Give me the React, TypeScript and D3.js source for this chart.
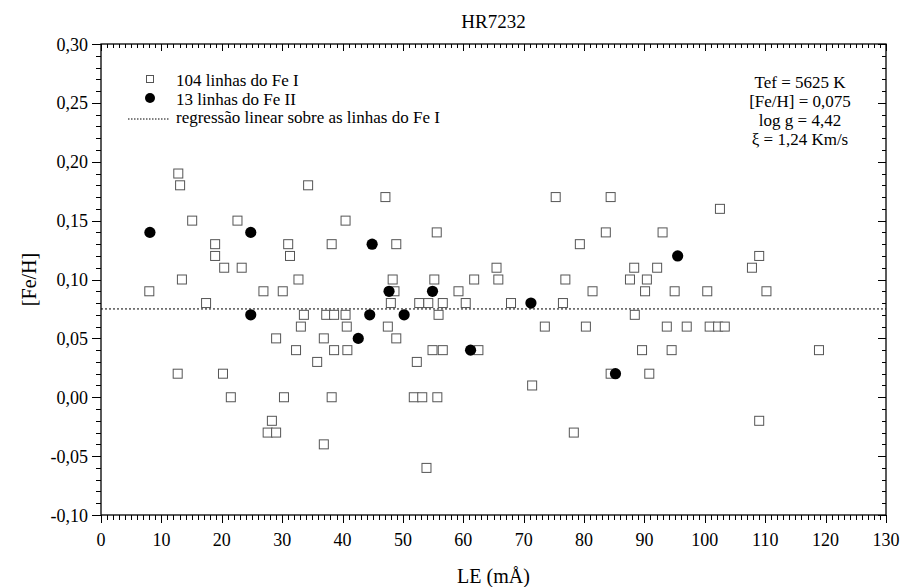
import React from "react";
import * as d3 from "d3";

const feI_LE: number[] = [
  12.8,
  13.1, 34.3,
  47.1, 75.3, 84.4,
  102.5,
  15.1, 22.6, 40.5,
  55.6, 83.6, 93.0,
  18.9, 31.0, 38.2, 48.9, 79.3,
  18.9, 31.3, 109.0,
  20.4, 23.3, 65.5, 88.3, 92.1, 107.8,
  13.4, 32.7, 48.3, 55.2, 61.8, 65.8, 76.9, 87.6, 90.4,
  8.0, 26.9, 30.1, 48.6, 59.2, 81.4, 90.1, 95.0, 100.4, 110.2,
  17.4, 48.0, 52.7, 54.2, 56.6, 60.4, 67.9, 76.5,
  33.6, 37.3, 38.6, 40.5, 55.9, 88.4,
  33.1, 40.7, 47.5, 73.5, 80.3, 93.7, 97.0, 100.8, 102.2, 103.3,
  29.0, 36.9, 48.9,
  32.3, 38.6, 40.8, 54.9, 56.6, 62.5, 89.6, 94.5, 118.9,
  35.8, 52.3,
  12.7, 20.2, 84.4, 90.8,
  71.4,
  21.5, 30.3, 38.2, 51.8, 53.2, 55.7,
  28.3, 109.0,
  27.6, 29.0, 78.3,
  36.9,
  53.9,
];
const feI_FeH: number[] = [
  0.19,
  0.18, 0.18,
  0.17, 0.17, 0.17,
  0.16,
  0.15, 0.15, 0.15,
  0.14, 0.14, 0.14,
  0.13, 0.13, 0.13, 0.13, 0.13,
  0.12, 0.12, 0.12,
  0.11, 0.11, 0.11, 0.11, 0.11, 0.11,
  0.10, 0.10, 0.10, 0.10, 0.10, 0.10, 0.10, 0.10, 0.10,
  0.09, 0.09, 0.09, 0.09, 0.09, 0.09, 0.09, 0.09, 0.09, 0.09,
  0.08, 0.08, 0.08, 0.08, 0.08, 0.08, 0.08, 0.08,
  0.07, 0.07, 0.07, 0.07, 0.07, 0.07,
  0.06, 0.06, 0.06, 0.06, 0.06, 0.06, 0.06, 0.06, 0.06, 0.06,
  0.05, 0.05, 0.05,
  0.04, 0.04, 0.04, 0.04, 0.04, 0.04, 0.04, 0.04, 0.04,
  0.03, 0.03,
  0.02, 0.02, 0.02, 0.02,
  0.01,
  0.0, 0.0, 0.0, 0.0, 0.0, 0.0,
  -0.02, -0.02,
  -0.03, -0.03, -0.03,
  -0.04,
  -0.06,
];

const feII_LE: number[] = [8.1, 24.8, 24.8, 42.6, 44.5, 44.9, 47.7, 50.2, 54.9, 61.2, 71.2, 85.2, 95.5];
const feII_FeH: number[] = [0.14, 0.14, 0.07, 0.05, 0.07, 0.13, 0.09, 0.07, 0.09, 0.04, 0.08, 0.02, 0.12];

const regressionValue = 0.075;

const xTicks: number[] = [0, 10, 20, 30, 40, 50, 60, 70, 80, 90, 100, 110, 120, 130];
const yTicks: number[] = [-0.1, -0.05, 0, 0.05, 0.1, 0.15, 0.2, 0.25, 0.3];

const legendLabels: string[] = [
  "104 linhas do Fe I",
  "13 linhas do Fe II",
  "regressão linear sobre as linhas do Fe I",
];
const infoLines: string[] = ["Tef = 5625 K", "[Fe/H] = 0,075", "log g = 4,42", "ξ = 1,24 Km/s"];

const W = 906;
const H = 587;
const M = { left: 101, right: 886, top: 44, bottom: 515 };
const ts = { fontFamily: "Liberation Serif" };

export default function App() {
  const x = d3.scaleLinear().domain([0, 130]).range([M.left, M.right]);
  const y = d3.scaleLinear().domain([-0.1, 0.3]).range([M.bottom, M.top]);
  const fmt = (v: number) => d3.format(".2f")(v).replace(".", ",").replace("−", "-");

  const xMinor = d3.range(0, 131, 1);
  const yMinor = d3.range(-10, 31, 1).map((v) => v / 100);

  const sq = 9;
  return (
    <svg width={W} height={H} style={{ position: "absolute", left: 0, top: 0, background: "#fff" }}>
      <text x={(M.left + M.right) / 2} y={28} textAnchor="middle" fontSize={19} style={ts}>HR7232</text>

      <rect x={M.left} y={M.top} width={M.right - M.left} height={M.bottom - M.top} fill="none" stroke="#000" strokeWidth={1.3} />

      {xMinor.map((v) => {
        const major = v % 10 === 0;
        const len = major ? 8 : 5;
        const px = Math.round(x(v)) + 0.5;
        return (
          <g key={"xt" + v}>
            <line x1={px} x2={px} y1={M.bottom} y2={M.bottom + len} stroke="#000" strokeWidth={1} />
            <line x1={px} x2={px} y1={M.top} y2={M.top + (major ? 7 : 4)} stroke="#000" strokeWidth={1} />
          </g>
        );
      })}
      {xTicks.map((v) => (
        <text key={"xl" + v} x={x(v)} y={546} textAnchor="middle" fontSize={18} style={ts}>{v}</text>
      ))}

      {yMinor.map((v, i) => {
        const major = (i % 5) === 0;
        const py = Math.round(y(v)) + 0.5;
        return (
          <g key={"yt" + i}>
            <line x1={M.left - (major ? 9 : 5)} x2={M.left} y1={py} y2={py} stroke="#000" strokeWidth={1} />
            <line x1={M.right - (major ? 8 : 4)} x2={M.right} y1={py} y2={py} stroke="#000" strokeWidth={1} />
          </g>
        );
      })}
      {yTicks.map((v) => (
        <text key={"yl" + v} x={88} y={y(v) + 6.5} textAnchor="end" fontSize={18} style={ts}>{fmt(v)}</text>
      ))}

      <text x={(M.left + M.right) / 2} y={583} textAnchor="middle" fontSize={20} style={ts}>LE (mÅ)</text>
      <text transform={`translate(36, ${(M.top + M.bottom) / 2}) rotate(-90)`} textAnchor="middle" fontSize={20} style={ts}>[Fe/H]</text>

      <line x1={M.left} x2={M.right} y1={y(regressionValue)} y2={y(regressionValue)} stroke="#000" strokeWidth={1} strokeDasharray="2,2" />

      {feI_LE.map((v, i) => (
        <rect key={"s" + i} x={x(v) - sq / 2} y={y(feI_FeH[i]) - sq / 2} width={sq} height={sq} fill="#fff" stroke="#555" strokeWidth={1} />
      ))}
      {feII_LE.map((v, i) => (
        <circle key={"c" + i} cx={x(v)} cy={y(feII_FeH[i])} r={5.6} fill="#000" />
      ))}

      <rect x={146.5} y={75.5} width={7} height={7} fill="#fff" stroke="#555" strokeWidth={1} />
      <circle cx={150} cy={98} r={5} fill="#000" />
      <line x1={128} x2={170} y1={119} y2={119} stroke="#000" strokeWidth={1} strokeDasharray="1.5,1.5" />
      {legendLabels.map((t, i) => (
        <text key={"lg" + i} x={176} y={86 + i * 18.5} fontSize={17} style={ts}>{t}</text>
      ))}

      {infoLines.map((t, i) => (
        <text key={"in" + i} x={800} y={88 + i * 19} textAnchor="middle" fontSize={17} style={ts}>{t}</text>
      ))}
    </svg>
  );
}
